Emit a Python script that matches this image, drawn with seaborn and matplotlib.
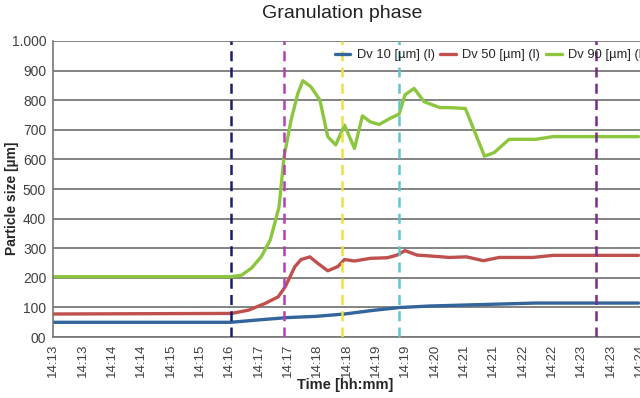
import matplotlib
matplotlib.use('Agg')
import matplotlib.pyplot as plt
import pandas as pd
import seaborn as sns

# x values are in tick units (one tick ~ 30 s)
tick_labels = ['14:13', '14:13', '14:14', '14:14', '14:15', '14:15', '14:16',
               '14:17', '14:17', '14:18', '14:18', '14:19', '14:19', '14:20',
               '14:21', '14:21', '14:22', '14:22', '14:23', '14:23', '14:24']

dv10_x = [0, 6.05, 6.99, 8.0, 8.95, 9.93, 10.88, 11.82, 12.84, 15.0, 16.45, 19.95]
dv10_y = [50, 50, 58, 66, 70, 78, 90, 100, 105, 111, 115, 115]

dv50_x = [0, 6.08, 6.66, 7.23, 7.67, 7.91, 8.24, 8.45, 8.75, 9.02, 9.36, 9.70,
          9.93, 10.27, 10.81, 11.39, 11.72, 11.99, 12.40, 12.84, 13.51, 14.09,
          14.66, 15.20, 16.35, 17.03, 19.95]
dv50_y = [78, 80, 91, 114, 136, 170, 238, 262, 271, 249, 224, 238,
          262, 257, 266, 268, 277, 292, 277, 274, 269, 271,
          258, 269, 269, 276, 276]

dv90_x = [0, 6.08, 6.42, 6.76, 7.09, 7.40, 7.70, 7.87, 8.11, 8.34, 8.51, 8.78,
          9.09, 9.36, 9.63, 9.93, 10.27, 10.54, 10.81, 11.11, 11.49, 11.79,
          11.99, 12.30, 12.64, 13.18, 13.51, 14.05, 14.70, 15.03, 15.54, 16.45,
          17.03, 19.95]
dv90_y = [204, 204, 209, 233, 271, 328, 440, 609, 733, 823, 866, 846,
          801, 677, 649, 716, 637, 747, 727, 718, 739, 753,
          818, 840, 795, 775, 775, 772, 611, 623, 668, 668,
          677, 677]

event_x = [6.05, 7.87, 9.83, 11.80, 18.5]
event_colors = ['#1c1c6e', '#b440b4', '#f2e03a', '#5cc6d2', '#7a2a8c']

series = [('Dv 10 [µm] (l)', dv10_x, dv10_y, '#33649c'),
          ('Dv 50 [µm] (l)', dv50_x, dv50_y, '#c0504d'),
          ('Dv 90 [µm] (l)', dv90_x, dv90_y, '#8cc63f')]

sns.set_style('white')
plt.rcParams['font.family'] = ['Liberation Sans', 'DejaVu Sans']

fig = plt.figure(figsize=(6.4, 3.98), dpi=100)
ax = fig.add_axes([0.083, 0.153, 0.917, 0.744])

for name, xs, ys, color in series:
    df = pd.DataFrame({'t': xs, 'size': ys})
    sns.lineplot(data=df, x='t', y='size', ax=ax, color=color, lw=2.4,
                 label=name, sort=False)

for xv, c in zip(event_x, event_colors):
    ax.axvline(xv, color=c, lw=1.8, ls=(0, (4, 2.5)), zorder=3)

ax.set_xlim(0, 19.93)
ax.set_ylim(0, 1000)
ax.set_yticks(range(0, 1001, 100))
ax.set_yticklabels(['00'] + [str(v) for v in range(100, 1000, 100)] + ['1.000'],
                   fontsize=10, color='#404040')
ax.set_xticks(range(len(tick_labels)))
ax.set_xticklabels(tick_labels, rotation=90, fontsize=9.5, color='#404040')
ax.grid(axis='y', color='#6e6e6e', lw=1.2)
ax.set_axisbelow(True)
ax.tick_params(axis='both', length=3, width=1, color='#777777', direction='out',
               pad=2)
for side in ['top', 'right']:
    ax.spines[side].set_visible(False)
for side in ['left', 'bottom']:
    ax.spines[side].set_color('#777777')
    ax.spines[side].set_linewidth(1.2)

ax.set_xlabel('Time [hh:mm]', fontsize=10.5, fontweight='bold')
ax.xaxis.set_label_coords(0.497, -0.138)
ax.set_ylabel('Particle size [µm]', fontsize=10, fontweight='bold')
ax.yaxis.set_label_coords(-0.058, 0.47)
fig.text(0.534, 0.965, 'Granulation phase', ha='center', va='center', fontsize=14,
         color='#222222')

ax.legend(loc='upper left', bbox_to_anchor=(0.471, 0.99), ncol=3, frameon=False,
          fontsize=9.3, handlelength=1.2, handletextpad=0.5, columnspacing=0.45,
          borderaxespad=0)

fig.savefig('out.png', dpi=100)
